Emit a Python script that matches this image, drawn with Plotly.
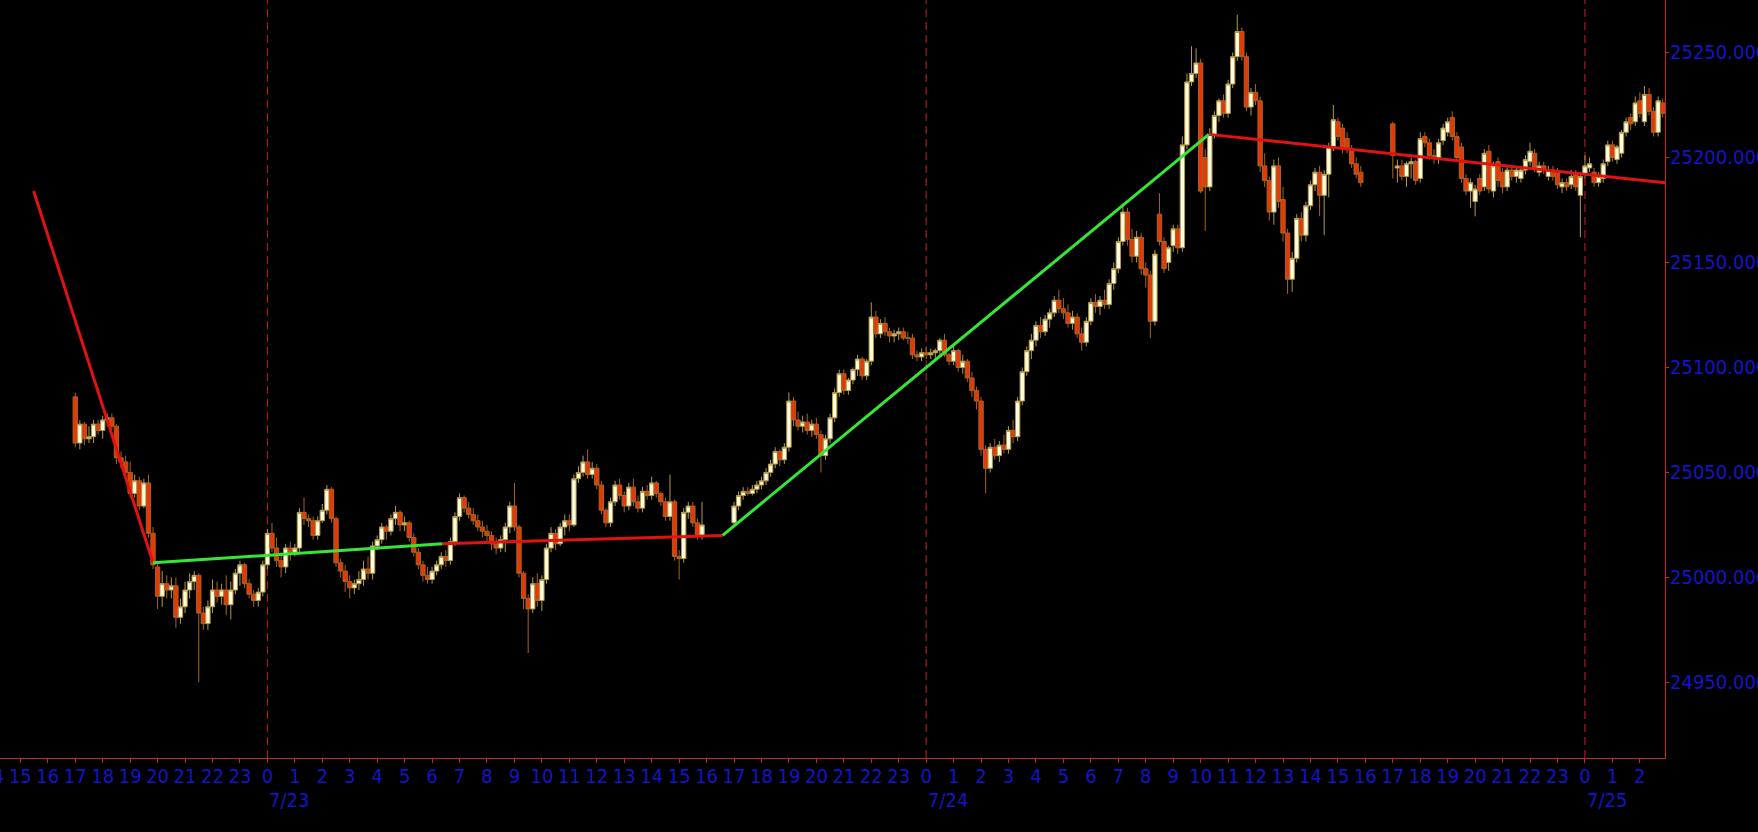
import pandas as pd
import plotly.graph_objects as go

# ---------------- data (10-minute bars) ----------------
# Session 1: 2025-07-22 17:00 -> 2025-07-23 15:50
open_s1 = [
    25086, 25064, 25073, 25066, 25067, 25073,
    25070, 25075, 25076, 25072, 25057, 25055,
    25050, 25040, 25046, 25034, 25045, 25021,
    25005, 24991, 24997, 24994, 24996, 24981,
    24986, 24994, 24998, 25001, 24983, 24978,
    24986, 24994, 24991, 24994, 24987, 24994,
    25002, 25006, 24997, 24992, 24989, 24993,
    25006, 25021, 25014, 25008, 25005, 25014,
    25012, 25014, 25031, 25028, 25027, 25020,
    25027, 25032, 25042, 25028, 25007, 25003,
    24998, 24995, 24997, 24999, 25004, 25002,
    25015, 25018, 25024, 25022, 25028, 25031,
    25025, 25026, 25019, 25012, 25006, 25001,
    24999, 25003, 25006, 25010, 25008, 25017,
    25029, 25038, 25033, 25030, 25027, 25024,
    25022, 25020, 25016, 25014, 25018, 25024,
    25034, 25024, 25002, 24990, 24985, 24997,
    24989, 24999, 25014, 25021, 25016, 25024,
    25027, 25025, 25047, 25050, 25055, 25049,
    25052, 25044, 25032, 25026, 25036, 25044,
    25039, 25034, 25043, 25036, 25033, 25041,
    25039, 25045, 25040, 25036, 25029, 25036,
    25010, 25009, 25031, 25034, 25026, 25020,
]
high_s1 = [
    25088, 25075, 25074, 25072, 25075, 25075,
    25077, 25078, 25078, 25073, 25060, 25058,
    25055, 25049, 25048, 25047, 25049, 25024,
    25008, 25003, 25001, 25000, 25000, 24990,
    24998, 25002, 25003, 25002, 24986, 24989,
    24999, 24998, 24997, 25001, 24998, 25004,
    25008, 25007, 24999, 24994, 24995, 25008,
    25023, 25026, 25019, 25012, 25016, 25017,
    25016, 25033, 25038, 25030, 25029, 25029,
    25035, 25044, 25043, 25029, 25009, 25006,
    25001, 24999, 25003, 25008, 25010, 25017,
    25020, 25026, 25025, 25030, 25034, 25032,
    25029, 25027, 25021, 25014, 25008, 25005,
    25005, 25008, 25012, 25013, 25019, 25031,
    25040, 25039, 25036, 25033, 25030, 25027,
    25025, 25022, 25019, 25020, 25026, 25036,
    25045, 25025, 25003, 24992, 25000, 25002,
    25001, 25016, 25024, 25023, 25026, 25030,
    25030, 25049, 25053, 25058, 25061, 25055,
    25054, 25046, 25033, 25038, 25046, 25047,
    25041, 25045, 25047, 25039, 25043, 25044,
    25048, 25046, 25041, 25038, 25049, 25037,
    25013, 25033, 25036, 25036, 25028, 25036,
]
low_s1 = [
    25062, 25061, 25063, 25064, 25064, 25068,
    25066, 25072, 25070, 25054, 25052, 25046,
    25038, 25038, 25032, 25033, 25019, 25004,
    24985, 24986, 24990, 24990, 24976, 24978,
    24983, 24990, 24994, 24950, 24975, 24975,
    24983, 24988, 24987, 24982, 24980, 24992,
    24996, 24995, 24990, 24986, 24986, 24991,
    25004, 25012, 25005, 25000, 25002, 25008,
    25010, 25012, 25025, 25024, 25018, 25018,
    25026, 25030, 25026, 25005, 25000, 24993,
    24990, 24992, 24994, 24996, 24999, 24999,
    25013, 25016, 25018, 25020, 25025, 25022,
    25022, 25017, 25010, 25004, 24998, 24997,
    24997, 25001, 25004, 25005, 25006, 25015,
    25027, 25031, 25028, 25025, 25022, 25019,
    25017, 25013, 25011, 25012, 25012, 25021,
    25022, 25000, 24985, 24964, 24983, 24986,
    24984, 24997, 25012, 25013, 25015, 25020,
    25022, 25024, 25045, 25048, 25047, 25047,
    25042, 25030, 25024, 25024, 25034, 25037,
    25031, 25032, 25034, 25031, 25031, 25037,
    25037, 25038, 25034, 25027, 25027, 25008,
    24999, 25007, 25028, 25024, 25018, 25018,
]
close_s1 = [
    25064, 25073, 25066, 25067, 25073, 25070,
    25075, 25076, 25072, 25057, 25055, 25050,
    25040, 25046, 25034, 25045, 25021, 25006,
    24991, 24997, 24994, 24996, 24981, 24986,
    24994, 24998, 25001, 24983, 24978, 24986,
    24994, 24991, 24994, 24987, 24994, 25002,
    25006, 24997, 24992, 24989, 24993, 25006,
    25021, 25014, 25008, 25005, 25014, 25012,
    25014, 25031, 25028, 25027, 25020, 25027,
    25032, 25042, 25028, 25007, 25003, 24998,
    24995, 24997, 24999, 25004, 25002, 25015,
    25018, 25024, 25022, 25028, 25031, 25025,
    25026, 25019, 25012, 25006, 25001, 24999,
    25003, 25006, 25010, 25008, 25017, 25029,
    25038, 25033, 25030, 25027, 25024, 25022,
    25020, 25016, 25014, 25018, 25024, 25034,
    25024, 25002, 24990, 24985, 24997, 24989,
    24999, 25014, 25021, 25016, 25024, 25027,
    25025, 25047, 25050, 25055, 25049, 25052,
    25044, 25032, 25026, 25036, 25044, 25039,
    25034, 25043, 25036, 25033, 25041, 25039,
    25045, 25040, 25036, 25029, 25036, 25010,
    25009, 25031, 25034, 25026, 25020, 25025,
]

# Session 2: 2025-07-23 17:00 -> 2025-07-24 15:50
open_s2 = [
    25026, 25034, 25039, 25041, 25040, 25042,
    25044, 25046, 25050, 25054, 25060, 25056,
    25062, 25084, 25075, 25072, 25074, 25070,
    25073, 25068, 25058, 25066, 25076, 25088,
    25097, 25089, 25094, 25099, 25104, 25096,
    25103, 25124, 25116, 25121, 25117, 25115,
    25116, 25117, 25114, 25114, 25106, 25105,
    25107, 25106, 25107, 25108, 25113, 25106,
    25103, 25108, 25100, 25103, 25095, 25089,
    25084, 25061, 25052, 25062, 25058, 25063,
    25061, 25070, 25067, 25084, 25098, 25108,
    25113, 25120, 25117, 25123, 25126, 25132,
    25128, 25126, 25121, 25124, 25116, 25112,
    25122, 25131, 25129, 25132, 25130, 25140,
    25147, 25160, 25174, 25161, 25153, 25162,
    25147, 25144, 25122, 25173, 25160, 25150,
    25158, 25166, 25157, 25206, 25236, 25240,
    25245, 25200, 25186, 25211, 25220, 25227,
    25221, 25235, 25248, 25260, 25248, 25224,
    25231, 25227, 25196, 25189, 25174, 25196,
    25180, 25164, 25142, 25152, 25171, 25163,
    25177, 25187, 25193, 25182, 25192, 25205,
    25217, 25214, 25209, 25204, 25197, 25193,
]
high_s2 = [
    25036, 25041, 25043, 25043, 25044, 25046,
    25048, 25052, 25056, 25062, 25061, 25064,
    25088, 25086, 25079, 25077, 25078, 25075,
    25076, 25070, 25068, 25078, 25090, 25099,
    25099, 25095, 25100, 25106, 25105, 25104,
    25131, 25127, 25123, 25124, 25119, 25118,
    25119, 25119, 25117, 25116, 25108, 25109,
    25110, 25109, 25109, 25114, 25116, 25107,
    25110, 25109, 25106, 25104, 25098, 25091,
    25086, 25063, 25064, 25066, 25065, 25068,
    25072, 25075, 25086, 25100, 25110, 25116,
    25122, 25124, 25125, 25128, 25134, 25137,
    25133, 25130, 25127, 25126, 25119, 25124,
    25133, 25135, 25134, 25137, 25142, 25150,
    25162, 25178, 25176, 25166, 25165, 25164,
    25150, 25146, 25156, 25183, 25162, 25158,
    25168, 25168, 25210, 25240, 25253, 25252,
    25247, 25204, 25214, 25222, 25228, 25230,
    25237, 25250, 25268, 25262, 25250, 25233,
    25235, 25229, 25202, 25191, 25199, 25200,
    25186, 25166, 25155, 25173, 25174, 25179,
    25189, 25195, 25196, 25194, 25207, 25225,
    25219, 25216, 25212, 25206, 25200, 25196,
]
low_s2 = [
    25024, 25032, 25037, 25039, 25039, 25040,
    25042, 25044, 25048, 25052, 25053, 25054,
    25060, 25072, 25070, 25069, 25068, 25067,
    25066, 25050, 25056, 25064, 25074, 25086,
    25087, 25087, 25092, 25096, 25094, 25094,
    25101, 25114, 25114, 25115, 25112, 25112,
    25113, 25113, 25111, 25104, 25103, 25103,
    25104, 25104, 25104, 25106, 25105, 25101,
    25101, 25098, 25097, 25093, 25086, 25080,
    25058, 25040, 25050, 25056, 25055, 25059,
    25059, 25064, 25065, 25082, 25096, 25104,
    25110, 25114, 25115, 25119, 25124, 25126,
    25123, 25119, 25118, 25114, 25108, 25110,
    25120, 25126, 25125, 25128, 25128, 25137,
    25145, 25158, 25158, 25150, 25150, 25144,
    25138, 25114, 25120, 25158, 25145, 25146,
    25155, 25154, 25155, 25204, 25234, 25238,
    25183, 25165, 25184, 25209, 25217, 25219,
    25219, 25233, 25246, 25246, 25222, 25220,
    25225, 25193, 25186, 25170, 25168, 25176,
    25160, 25135, 25136, 25150, 25160, 25160,
    25175, 25184, 25172, 25163, 25181, 25203,
    25208, 25202, 25202, 25195, 25190, 25186,
]
close_s2 = [
    25034, 25039, 25041, 25040, 25042, 25044,
    25046, 25050, 25054, 25060, 25056, 25062,
    25084, 25075, 25072, 25074, 25070, 25073,
    25068, 25058, 25066, 25076, 25088, 25097,
    25089, 25094, 25099, 25104, 25096, 25103,
    25124, 25116, 25121, 25117, 25115, 25116,
    25117, 25114, 25114, 25106, 25105, 25107,
    25106, 25107, 25108, 25113, 25106, 25103,
    25108, 25100, 25103, 25095, 25089, 25084,
    25061, 25052, 25062, 25058, 25063, 25061,
    25070, 25067, 25084, 25098, 25108, 25113,
    25120, 25117, 25123, 25126, 25132, 25128,
    25126, 25121, 25124, 25116, 25112, 25122,
    25131, 25129, 25132, 25130, 25140, 25147,
    25160, 25174, 25161, 25153, 25162, 25147,
    25144, 25122, 25154, 25160, 25147, 25157,
    25166, 25157, 25206, 25236, 25240, 25245,
    25184, 25186, 25211, 25220, 25227, 25221,
    25235, 25248, 25260, 25248, 25224, 25231,
    25227, 25196, 25189, 25174, 25196, 25179,
    25164, 25142, 25152, 25171, 25163, 25177,
    25187, 25193, 25182, 25192, 25205, 25218,
    25210, 25204, 25204, 25197, 25192, 25188,
]

# Session 3: 2025-07-24 17:00 -> 2025-07-25 02:50
open_s3 = [
    25216, 25195, 25196, 25191, 25197, 25198,
    25190, 25210, 25207, 25201, 25199, 25208,
    25212, 25219, 25210, 25205, 25190, 25184,
    25179, 25190, 25186, 25203, 25184, 25198,
    25193, 25186, 25194, 25191, 25190, 25194,
    25198, 25202, 25193, 25196, 25191, 25194,
    25193, 25186, 25188, 25187, 25192, 25182,
    25192, 25195, 25193, 25188, 25190, 25198,
    25206, 25199, 25202, 25212, 25219, 25217,
    25227, 25217, 25230, 25222, 25212, 25226,
]
high_s3 = [
    25217, 25199, 25199, 25198, 25200, 25199,
    25212, 25212, 25209, 25204, 25209, 25216,
    25219, 25222, 25212, 25207, 25192, 25190,
    25187, 25192, 25204, 25206, 25198, 25200,
    25195, 25196, 25196, 25195, 25196, 25201,
    25207, 25204, 25198, 25198, 25196, 25196,
    25195, 25190, 25190, 25194, 25194, 25193,
    25201, 25200, 25195, 25193, 25199, 25208,
    25208, 25206, 25213, 25219, 25221, 25229,
    25231, 25234, 25233, 25224, 25229, 25228,
]
low_s3 = [
    25190, 25188, 25189, 25186, 25190, 25187,
    25188, 25205, 25199, 25197, 25197, 25206,
    25210, 25208, 25198, 25188, 25182, 25176,
    25172, 25182, 25184, 25183, 25181, 25186,
    25183, 25184, 25189, 25188, 25188, 25192,
    25196, 25193, 25191, 25192, 25189, 25189,
    25185, 25183, 25184, 25185, 25184, 25162,
    25190, 25193, 25186, 25186, 25188, 25196,
    25198, 25197, 25200, 25210, 25213, 25215,
    25219, 25215, 25220, 25210, 25210, 25219,
]
close_s3 = [
    25201, 25196, 25191, 25197, 25198, 25189,
    25209, 25207, 25201, 25200, 25207, 25214,
    25217, 25210, 25200, 25190, 25184, 25188,
    25185, 25184, 25202, 25185, 25196, 25189,
    25186, 25194, 25191, 25194, 25194, 25199,
    25203, 25195, 25196, 25194, 25194, 25191,
    25187, 25188, 25186, 25191, 25186, 25191,
    25196, 25197, 25188, 25191, 25197, 25206,
    25200, 25205, 25212, 25217, 25216, 25226,
    25221, 25230, 25222, 25212, 25227, 25221,
]

session_starts = ["2025-07-22 17:00", "2025-07-23 17:00", "2025-07-24 17:00"]

# trend lines (time, price)
trend_red_1 = (["2025-07-22 15:29", "2025-07-22 19:50"], [25184, 25007])
trend_green_1 = (["2025-07-22 19:50", "2025-07-23 06:23"], [25007, 25016])
trend_red_2 = (["2025-07-23 06:23", "2025-07-23 16:35"], [25016, 25020])
trend_green_2 = (["2025-07-23 16:35", "2025-07-24 10:18"], [25020, 25211])
trend_red_3 = (["2025-07-24 10:18", "2025-07-25 02:55"], [25211, 25188])

day_starts = ["2025-07-23", "2025-07-24", "2025-07-25"]
day_labels = ["7/23", "7/24", "7/25"]
price_ticks = [24950, 25000, 25050, 25100, 25150, 25200, 25250]
x_range = ["2025-07-22 14:15:30", "2025-07-25 02:55:00"]
y_range = [24914, 25275]
clipped_hour_label = ("2025-07-22 14:00", "14")   # partly visible at the left edge

# ---------------- styling ----------------
BLUE = "#1414c8"
AXIS_RED = "#c8281e"
FONT = "DejaVu Sans Condensed, DejaVu Sans, sans-serif"
FSIZE = 20
UP_FILL, UP_LINE = "#fffbe0", "#b39b45"
DN_FILL, DN_LINE = "#e5380a", "#a8641e"

xs, o, h, l, c = [], [], [], [], []
for start, oo, hh, ll, cc in zip(session_starts,
                                 [open_s1, open_s2, open_s3],
                                 [high_s1, high_s2, high_s3],
                                 [low_s1, low_s2, low_s3],
                                 [close_s1, close_s2, close_s3]):
    xs += list(pd.date_range(start, periods=len(cc), freq="10min"))
    o += oo; h += hh; l += ll; c += cc

fig = go.Figure()
fig.add_trace(go.Candlestick(
    x=xs, open=o, high=h, low=l, close=c,
    increasing=dict(line=dict(color=UP_LINE, width=1), fillcolor=UP_FILL),
    decreasing=dict(line=dict(color=DN_LINE, width=1), fillcolor=DN_FILL),
    whiskerwidth=0, showlegend=False, hoverinfo="skip"))

for (tx, ty), col in [(trend_red_1, "#e01212"), (trend_green_1, "#36e636"),
                      (trend_red_2, "#e01212"), (trend_green_2, "#36e636"),
                      (trend_red_3, "#e01212")]:
    fig.add_trace(go.Scatter(x=tx, y=ty, mode="lines",
                             line=dict(color=col, width=3),
                             showlegend=False, hoverinfo="skip"))

for d in day_starts:
    fig.add_shape(type="line", xref="x", yref="paper", x0=d, x1=d, y0=0, y1=1,
                  line=dict(color="#c42020", width=1, dash="8px,5px"), layer="below")

for d, lab in zip(day_starts, day_labels):
    fig.add_annotation(x=d, xref="x", y=-0.056, yref="paper", text=lab,
                       showarrow=False, xanchor="left", yanchor="middle",
                       font=dict(family=FONT, size=FSIZE, color=BLUE))

# hour label that is partly cut by the left edge (its tick lies just outside the range)
t0, t1 = pd.Timestamp(x_range[0]), pd.Timestamp(x_range[1])
frac = (pd.Timestamp(clipped_hour_label[0]) - t0) / (t1 - t0)
fig.add_annotation(x=frac, xref="paper", y=-0.0235, yref="paper",
                   text=clipped_hour_label[1], showarrow=False,
                   xanchor="center", yanchor="middle",
                   font=dict(family=FONT, size=FSIZE, color=BLUE))

hour_ticks = pd.date_range("2025-07-22 15:00", "2025-07-25 02:00", freq="1h")

fig.update_layout(
    width=1758, height=832,
    margin=dict(l=0, r=93, t=0, b=74),
    paper_bgcolor="black", plot_bgcolor="black",
    showlegend=False, boxgap=0.05, boxgroupgap=0,
    xaxis=dict(type="date", range=x_range, rangeslider=dict(visible=False),
               showgrid=False, zeroline=False, showline=True,
               linecolor=AXIS_RED, linewidth=1,
               ticks="outside", ticklen=4, tickcolor=AXIS_RED,
               tickvals=list(hour_ticks),
               ticktext=[str(t.hour) for t in hour_ticks],
               tickfont=dict(family=FONT, size=FSIZE, color=BLUE),
               ticklabelstandoff=-4,
               automargin=False),
    yaxis=dict(side="right", range=y_range, showgrid=False, zeroline=False,
               showline=True, linecolor=AXIS_RED, linewidth=1,
               ticks="outside", ticklen=3, tickcolor=AXIS_RED,
               tickvals=price_ticks, tickformat=".3f",
               tickfont=dict(family=FONT, size=FSIZE, color=BLUE),
               ticklabelstandoff=-3,
               automargin=False),
)

fig.write_html(
    "out.html",
    config={"displayModeBar": False},
    post_script="document.body.style.margin='0px';"
                "document.body.style.background='black';",
)
